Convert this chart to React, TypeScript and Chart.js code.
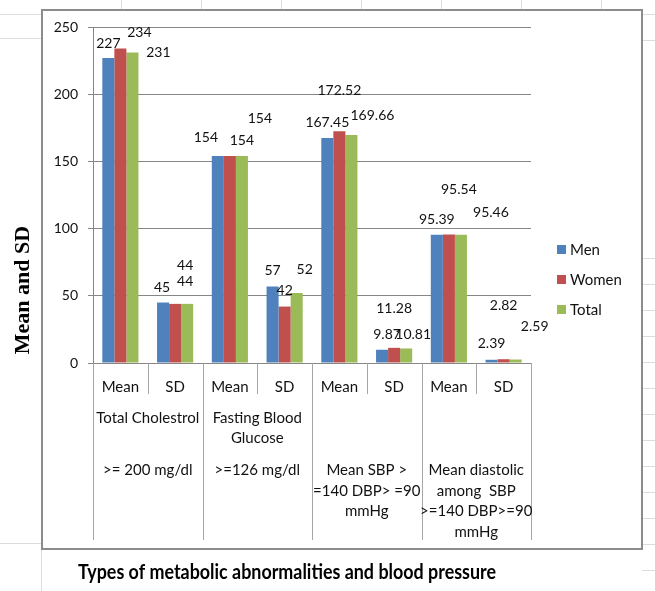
import React, { useEffect, useRef } from "react";
import { Chart, registerables } from "chart.js";

Chart.register(...registerables);

// ---------- data ----------
const categories = ["Mean", "SD", "Mean", "SD", "Mean", "SD", "Mean", "SD"];
const seriesNames = ["Men", "Women", "Total"];
const menValues = [227, 45, 154, 57, 167.45, 9.87, 95.39, 2.39];
const womenValues = [234, 44, 154, 42, 172.52, 11.28, 95.54, 2.82];
const totalValues = [231, 44, 154, 52, 169.66, 10.81, 95.46, 2.59];
const groupTitleLines = [["Total Cholestrol"], ["Fasting Blood", "Glucose"], [], []];
const groupCriteriaLines = [
  [">= 200 mg/dl"],
  [">=126 mg/dl"],
  ["Mean SBP >", "=140 DBP> =90", "mmHg"],
  ["Mean diastolic", "among  SBP", ">=140 DBP>=90", "mmHg"],
];
const yTicks = [0, 50, 100, 150, 200, 250];
const yAxisTitle = "Mean and SD";
const xAxisTitle = "Types of metabolic abnormalities and blood pressure";

// ---------- styling ----------
const seriesColors = ["#4F81BD", "#C0504D", "#9BBB59"];
// label placement offsets (dx, dy) of each data label from its bar top centre
const labelOffsets = [
  [[0, -14], [-1, -15], [-12, -19], [0, -16], [0, -15], [5, -15], [0, -15], [0, -16]],
  [[19, -16], [10, -38], [12, -16], [0, -16], [0, -41], [0, -39], [10, -45], [0, -54]],
  [[26, 0], [-2, -22], [18, -38], [8, -24], [21, -19], [7, -14], [30, -22], [19, -33]],
];
const FONT = "Lato, 'Open Sans', sans-serif";
const TEXT = "#111";

const excelPlugin = {
  id: "excelDecor",
  beforeDraw(chart: any) {
    const ctx = chart.ctx as CanvasRenderingContext2D;
    const W = chart.width, H = chart.height;
    ctx.save();
    ctx.fillStyle = "#ffffff";
    ctx.fillRect(0, 0, W, H);
    // faint spreadsheet cell lines
    ctx.strokeStyle = "#dcdcdc";
    ctx.lineWidth = 1;
    const hLeft = [14, 38, 543];
    hLeft.forEach((y) => { ctx.beginPath(); ctx.moveTo(0, y + 0.5); ctx.lineTo(41, y + 0.5); ctx.stroke(); });
    const hRight = [14, 40, 258, 284, 310, 336, 362, 388, 414, 440, 466, 492, 518, 544, 570];
    hRight.forEach((y) => { ctx.beginPath(); ctx.moveTo(642, y + 0.5); ctx.lineTo(W, y + 0.5); ctx.stroke(); });
    [121, 201, 281, 361, 441, 521, 601].forEach((x) => { ctx.beginPath(); ctx.moveTo(x + 0.5, 0); ctx.lineTo(x + 0.5, 9); ctx.stroke(); });
    ctx.beginPath(); ctx.moveTo(41.5, 549); ctx.lineTo(41.5, H); ctx.stroke();
    // chart frame
    ctx.strokeStyle = "#8c8c8c";
    ctx.lineWidth = 2;
    ctx.strokeRect(42, 10, 600, 539);
    ctx.restore();
  },
  afterDraw(chart: any) {
    const ctx = chart.ctx as CanvasRenderingContext2D;
    const xs = chart.scales.x;
    const area = chart.chartArea;
    const n = categories.length;
    const cw = (xs.right - xs.left) / n;
    const axisY = area.bottom;
    ctx.save();
    // category separators
    ctx.strokeStyle = "#a6a6a6";
    ctx.lineWidth = 1;
    for (let k = 0; k <= n; k++) {
      const x = Math.round(xs.left + k * cw) + 0.5;
      const len = k % 2 === 0 ? 177 : 31;
      ctx.beginPath();
      ctx.moveTo(x, axisY);
      ctx.lineTo(x, axisY + len);
      ctx.stroke();
    }
    // group labels
    ctx.fillStyle = TEXT;
    ctx.font = `15px ${FONT}`;
    ctx.textAlign = "center";
    ctx.textBaseline = "middle";
    for (let g = 0; g < groupTitleLines.length; g++) {
      const cx = (xs.getPixelForValue(2 * g) + xs.getPixelForValue(2 * g + 1)) / 2;
      groupTitleLines[g].forEach((t, i) => ctx.fillText(t, cx, axisY + 55 + i * 20.5));
      groupCriteriaLines[g].forEach((t, i) => ctx.fillText(t, cx, axisY + 107.5 + i * 20.5));
    }
    // data labels
    ctx.font = `14px ${FONT}`;
    chart.data.datasets.forEach((ds: any, di: number) => {
      const meta = chart.getDatasetMeta(di);
      meta.data.forEach((el: any, i: number) => {
        const off = labelOffsets[di][i];
        ctx.fillText(String(ds.data[i]), el.x + off[0], el.y + off[1]);
      });
    });
    // legend
    ctx.textAlign = "left";
    ctx.font = `15px ${FONT}`;
    seriesNames.forEach((name, i) => {
      const y = 250 + i * 30;
      ctx.fillStyle = seriesColors[i];
      ctx.fillRect(area.right + 26, y - 5, 9, 9);
      ctx.fillStyle = TEXT;
      ctx.fillText(name, area.right + 39, y);
    });
    // axis titles
    ctx.textAlign = "center";
    ctx.fillStyle = "#000";
    ctx.save();
    ctx.font = `bold 21px ${FONT}`;
    const tw = ctx.measureText(xAxisTitle).width;
    const sx = Math.min(1, 418 / tw);
    ctx.translate(287, 572);
    ctx.scale(sx, 1);
    ctx.fillText(xAxisTitle, 0, 0);
    ctx.restore();
    ctx.save();
    ctx.translate(23, 290);
    ctx.rotate(-Math.PI / 2);
    ctx.font = `bold 22px 'Liberation Serif', 'DejaVu Serif', serif`;
    ctx.fillText(yAxisTitle, 0, 0);
    ctx.restore();
    ctx.restore();
  },
};

export default function App() {
  const ref = useRef<HTMLCanvasElement>(null);
  useEffect(() => {
    if (!ref.current) return;
    const chart = new Chart(ref.current, {
      type: "bar",
      data: {
        labels: categories,
        datasets: [
          { label: seriesNames[0], data: menValues, backgroundColor: seriesColors[0] },
          { label: seriesNames[1], data: womenValues, backgroundColor: seriesColors[1] },
          { label: seriesNames[2], data: totalValues, backgroundColor: seriesColors[2] },
        ],
      },
      options: {
        responsive: false,
        animation: false,
        layout: { padding: { left: 8, top: 27, right: 124, bottom: 0 } },
        datasets: { bar: { categoryPercentage: 0.66, barPercentage: 1.0 } },
        plugins: { legend: { display: false }, tooltip: { enabled: false } },
        scales: {
          x: {
            offset: true,
            afterFit: (s: any) => { s.height = 228; },
            grid: { display: false },
            border: { display: true, color: "#868686" },
            ticks: { padding: 7, color: TEXT, font: { family: FONT, size: 15 }, maxRotation: 0, autoSkip: false },
          },
          y: {
            min: 0,
            max: 250,
            afterFit: (s: any) => { s.width = 85; },
            afterBuildTicks: (s: any) => { s.ticks = yTicks.map((v) => ({ value: v })); },
            grid: { color: "#868686", tickLength: 5 },
            border: { display: true, color: "#868686" },
            ticks: { padding: 10, color: TEXT, font: { family: FONT, size: 14 } },
          },
        },
      },
      plugins: [excelPlugin],
    });
    return () => chart.destroy();
  }, []);
  return (
    <div style={{ position: "fixed", left: 0, top: 0, width: 655, height: 591 }}>
      <canvas ref={ref} width={655} height={591} style={{ display: "block" }} />
    </div>
  );
}
